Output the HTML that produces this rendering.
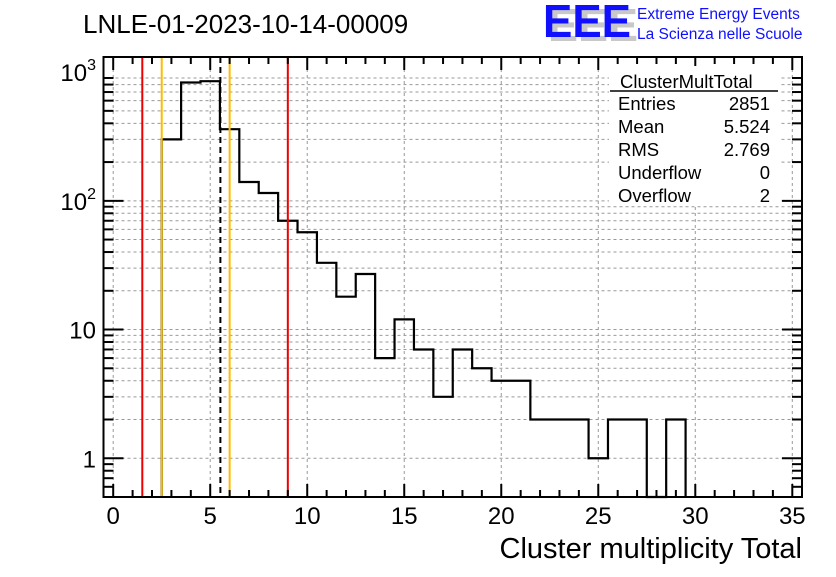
<!DOCTYPE html>
<html><head><meta charset="utf-8"><style>
body{margin:0;background:#fff;}
svg text{font-family:"Liberation Sans",sans-serif;}
</style></head><body>
<svg id="chart" width="836" height="572" xmlns="http://www.w3.org/2000/svg">
<rect width="836" height="572" fill="#fff"/>
<g id="grid"></g>
<g id="marks"></g>
<g id="axes"></g>
<text x="83" y="33" font-size="26">LNLE-01-2023-10-14-00009</text>
<g>
<text x="548" y="41" font-size="46" font-weight="bold" fill="#c8c8c8" textLength="90" lengthAdjust="spacingAndGlyphs">EEE</text>
<text x="543" y="37" font-size="46" font-weight="bold" fill="#1010ff" textLength="88" lengthAdjust="spacingAndGlyphs">EEE</text>
<text x="637" y="19" font-size="15.5" fill="#1010ff">Extreme Energy Events</text>
<text x="637" y="39" font-size="15.5" fill="#1010ff">La Scienza nelle Scuole</text>
</g>
<g font-size="18.5">
<rect x="609" y="66" width="170" height="140" fill="#fff"/>
<text x="620" y="88">ClusterMultTotal</text>
<line x1="610" y1="91" x2="778" y2="91" stroke="#000" stroke-width="1.5"/>
<text x="618" y="110">Entries</text><text x="770" y="110" text-anchor="end">2851</text>
<text x="618" y="133">Mean</text><text x="770" y="133" text-anchor="end">5.524</text>
<text x="618" y="156">RMS</text><text x="770" y="156" text-anchor="end">2.769</text>
<text x="618" y="179">Underflow</text><text x="770" y="179" text-anchor="end">0</text>
<text x="618" y="202">Overflow</text><text x="770" y="202" text-anchor="end">2</text>
</g>
<text x="802" y="558" font-size="29" text-anchor="end">Cluster multiplicity Total</text>
</svg>
<script>
const binCenters=[3,4,5,6,7,8,9,10,11,12,13,14,15,16,17,18,19,20,21,22,23,24,25,26,27,28,29];
const counts=[300,830,850,360,140,115,70,57,33,18,27,6,12,7,3,7,5,4,4,2,2,2,1,2,2,0,2];
const redLines=[1.5,9.0];
const orangeLines=[2.5,6.0];
const meanLine=[5.524];
const xTicks=[0,5,10,15,20,25,30,35];
const yTicks=[1,10,100,1000];
const yTickLabels=["1","10","10²","10³"];
const L=103.5,R=802,T=57,B=497,xmin=-0.5,xmax=35.5,ymin=0.5,ymax=1310;
const X=v=>L+(v-xmin)/(xmax-xmin)*(R-L);
const Y=v=>B-(Math.log10(v)-Math.log10(ymin))/(Math.log10(ymax)-Math.log10(ymin))*(B-T);
const NS="http://www.w3.org/2000/svg";
function mk(parent,tag,attrs){const e=document.createElementNS(NS,tag);for(const k in attrs)e.setAttribute(k,attrs[k]);document.getElementById(parent).appendChild(e);return e;}
for(const t of xTicks){if(t<=xmin||t>=xmax)continue;
 const g=mk('grid','line',{x1:X(t),x2:X(t),y1:T,y2:B,stroke:'#999',"stroke-dasharray":'3,3'});
 
 }
for(let d=0;d<4;d++)for(let m=1;m<10;m++){const v=m*Math.pow(10,d-1);if(v<ymin||v>ymax||v<1)continue;
 const g=mk('grid','line',{x1:L,x2:R,y1:Y(v),y2:Y(v),stroke:'#999',"stroke-dasharray":'3,3'});
 
 }
let d='';let started=false;
for(let i=0;i<binCenters.length;i++){
 const x0=X(binCenters[i]-0.5),x1=X(binCenters[i]+0.5);
 const v=counts[i];const y=v>0?Y(v):B;
 if(!started){d+=`M${x0},${B} L${x0},${y}`;started=true;}else{d+=` L${x0},${y}`;}
 d+=` L${x1},${y}`;
}
d+=` L${X(binCenters[binCenters.length-1]+0.5)},${B}`;
const h=mk('marks','path',{d:d,fill:'none',stroke:'#000','stroke-width':2.2});


for(const v of redLines){const l=mk('marks','line',{x1:X(v),x2:X(v),y1:T,y2:B,stroke:'#ee0000','stroke-width':2});
 
 }
for(const v of orangeLines){const l=mk('marks','line',{x1:X(v),x2:X(v),y1:T,y2:B,stroke:'#ffbb00','stroke-width':2});
 
 }
for(const v of meanLine){const l=mk('marks','line',{x1:X(v),x2:X(v),y1:T,y2:B,stroke:'#000','stroke-width':2,'stroke-dasharray':'6,4'});
 
 }
const fr=mk('axes','rect',{x:L,y:T,width:R-L,height:B-T,fill:'none',stroke:'#000','stroke-width':2});


for(let v=0;v<=35;v++){const len=v%5===0?13:7;
 mk('axes','line',{x1:X(v),x2:X(v),y1:B,y2:B-len,stroke:'#000','stroke-width':2});
 mk('axes','line',{x1:X(v),x2:X(v),y1:T,y2:T+len,stroke:'#000','stroke-width':2});}
for(const t of xTicks){const tx=mk('axes','text',{x:X(t),y:524,'font-size':24,'text-anchor':'middle'});tx.textContent=t;
 
 }
for(let dd=0;dd<4;dd++)for(let m=1;m<10;m++){const v=m*Math.pow(10,dd-1);if(v<ymin||v>ymax)continue;
 const len=m===1?20:10;
 mk('axes','line',{x1:L,x2:L+len,y1:Y(v),y2:Y(v),stroke:'#000','stroke-width':2});
 mk('axes','line',{x1:R,x2:R-len,y1:Y(v),y2:Y(v),stroke:'#000','stroke-width':2});}
yTicks.forEach((t,i)=>{const tx=mk('axes','text',{x:96,y:Y(t)+9,'font-size':24,'text-anchor':'end'});
 if(t>=100){tx.textContent='10';const s=document.createElementNS(NS,'tspan');s.setAttribute('dy','-11');s.setAttribute('font-size','16');s.textContent=String(Math.log10(t));tx.appendChild(s);}
 else tx.textContent=yTickLabels[i];
 
 });
</script>
</body></html>
